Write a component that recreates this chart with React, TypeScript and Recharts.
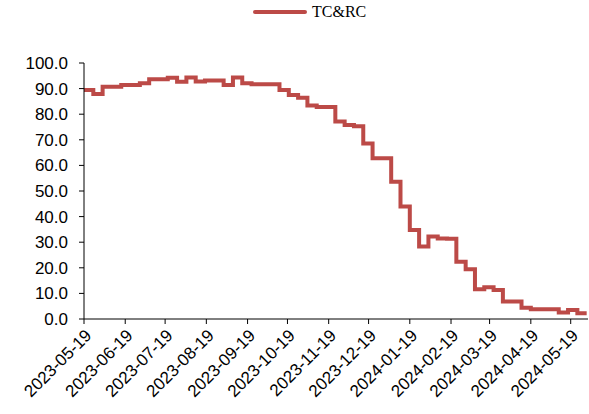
import React from "react";
import { LineChart, Line, XAxis, YAxis } from "recharts";

// weekly observation dates (Fridays)
const dates = [
  "2023-05-19", "2023-05-26", "2023-06-02", "2023-06-09", "2023-06-16", "2023-06-23", "2023-06-30",
  "2023-07-07", "2023-07-14", "2023-07-21", "2023-07-28", "2023-08-04", "2023-08-11", "2023-08-18",
  "2023-08-25", "2023-09-01", "2023-09-08", "2023-09-15", "2023-09-22", "2023-09-29", "2023-10-06",
  "2023-10-13", "2023-10-20", "2023-10-27", "2023-11-03", "2023-11-10", "2023-11-17", "2023-11-24",
  "2023-12-01", "2023-12-08", "2023-12-15", "2023-12-22", "2023-12-29", "2024-01-05", "2024-01-12",
  "2024-01-19", "2024-01-26", "2024-02-02", "2024-02-09", "2024-02-16", "2024-02-23", "2024-03-01",
  "2024-03-08", "2024-03-15", "2024-03-22", "2024-03-29", "2024-04-05", "2024-04-12", "2024-04-19",
  "2024-04-26", "2024-05-03", "2024-05-10", "2024-05-17", "2024-05-24", "2024-05-31",
];

const tcrc = [
  89.5, 87.9, 90.7, 90.7, 91.4, 91.4, 92.1, 93.7, 93.7, 94.2, 92.7, 94.3, 92.8, 93.2,
  93.2, 91.4, 94.3, 92.1, 91.7, 91.7, 91.7, 89.5, 87.5, 86.4, 83.4, 82.8, 82.8, 77.1,
  75.8, 75.3, 68.6, 62.8, 62.8, 53.6, 43.9, 34.8, 28.3, 32.2, 31.4, 31.3, 22.4, 19.4,
  11.6, 12.4, 11.3, 6.8, 6.8, 4.4, 3.8, 3.8, 3.8, 2.5, 3.5, 2.2, 2.2,
];

const xTicks = [
  "2023-05-19", "2023-06-19", "2023-07-19", "2023-08-19", "2023-09-19", "2023-10-19", "2023-11-19",
  "2023-12-19", "2024-01-19", "2024-02-19", "2024-03-19", "2024-04-19", "2024-05-19",
];

const yTicks = [0, 10, 20, 30, 40, 50, 60, 70, 80, 90, 100];

const toTs = (d: string) => Date.parse(d + "T00:00:00Z");
const fmtDate = (t: number) => new Date(t).toISOString().slice(0, 10);

const data = dates.map((d, i) => ({ t: toTs(d), v: tcrc[i] }));

const RED = "#BC4A47";
const FONT = "'Liberation Sans', Arial, sans-serif";

export default function App() {
  return (
    <div style={{ position: "relative", width: 589, height: 414, background: "#fff" }}>
      <style>{"body{margin:0}"}</style>
      <div
        style={{
          position: "absolute",
          top: 3,
          left: 253,
          display: "flex",
          alignItems: "center",
          fontFamily: "'Liberation Serif', 'Times New Roman', serif",
          fontSize: 16,
          color: "#000",
        }}
      >
        <span style={{ display: "inline-block", width: 54, height: 4, background: RED, borderRadius: 2, marginRight: 5 }} />
        <span>TC&amp;RC</span>
      </div>
      <LineChart width={589} height={414} data={data} margin={{ top: 63, right: 1, bottom: 0, left: 0 }}>
        <XAxis
          dataKey="t"
          type="number"
          scale="time"
          domain={[toTs("2023-05-19"), toTs("2024-06-01")]}
          ticks={xTicks.map(toTs)}
          tickFormatter={fmtDate}
          height={95}
          angle={-45}
          textAnchor="end"
          interval={0}
          tickSize={5}
          tickMargin={4}
          stroke="#000"
          tick={{ fill: "#000", fontSize: 17, fontFamily: FONT }}
        />
        <YAxis
          domain={[0, 100]}
          ticks={yTicks}
          tickFormatter={(v: number) => v.toFixed(1)}
          width={84}
          interval={0}
          tickSize={5}
          tickMargin={11}
          stroke="#000"
          tick={{ fill: "#000", fontSize: 17, fontFamily: FONT }}
        />
        <Line
          type="stepAfter"
          dataKey="v"
          stroke={RED}
          strokeWidth={4}
          dot={false}
          isAnimationActive={false}
        />
      </LineChart>
    </div>
  );
}
